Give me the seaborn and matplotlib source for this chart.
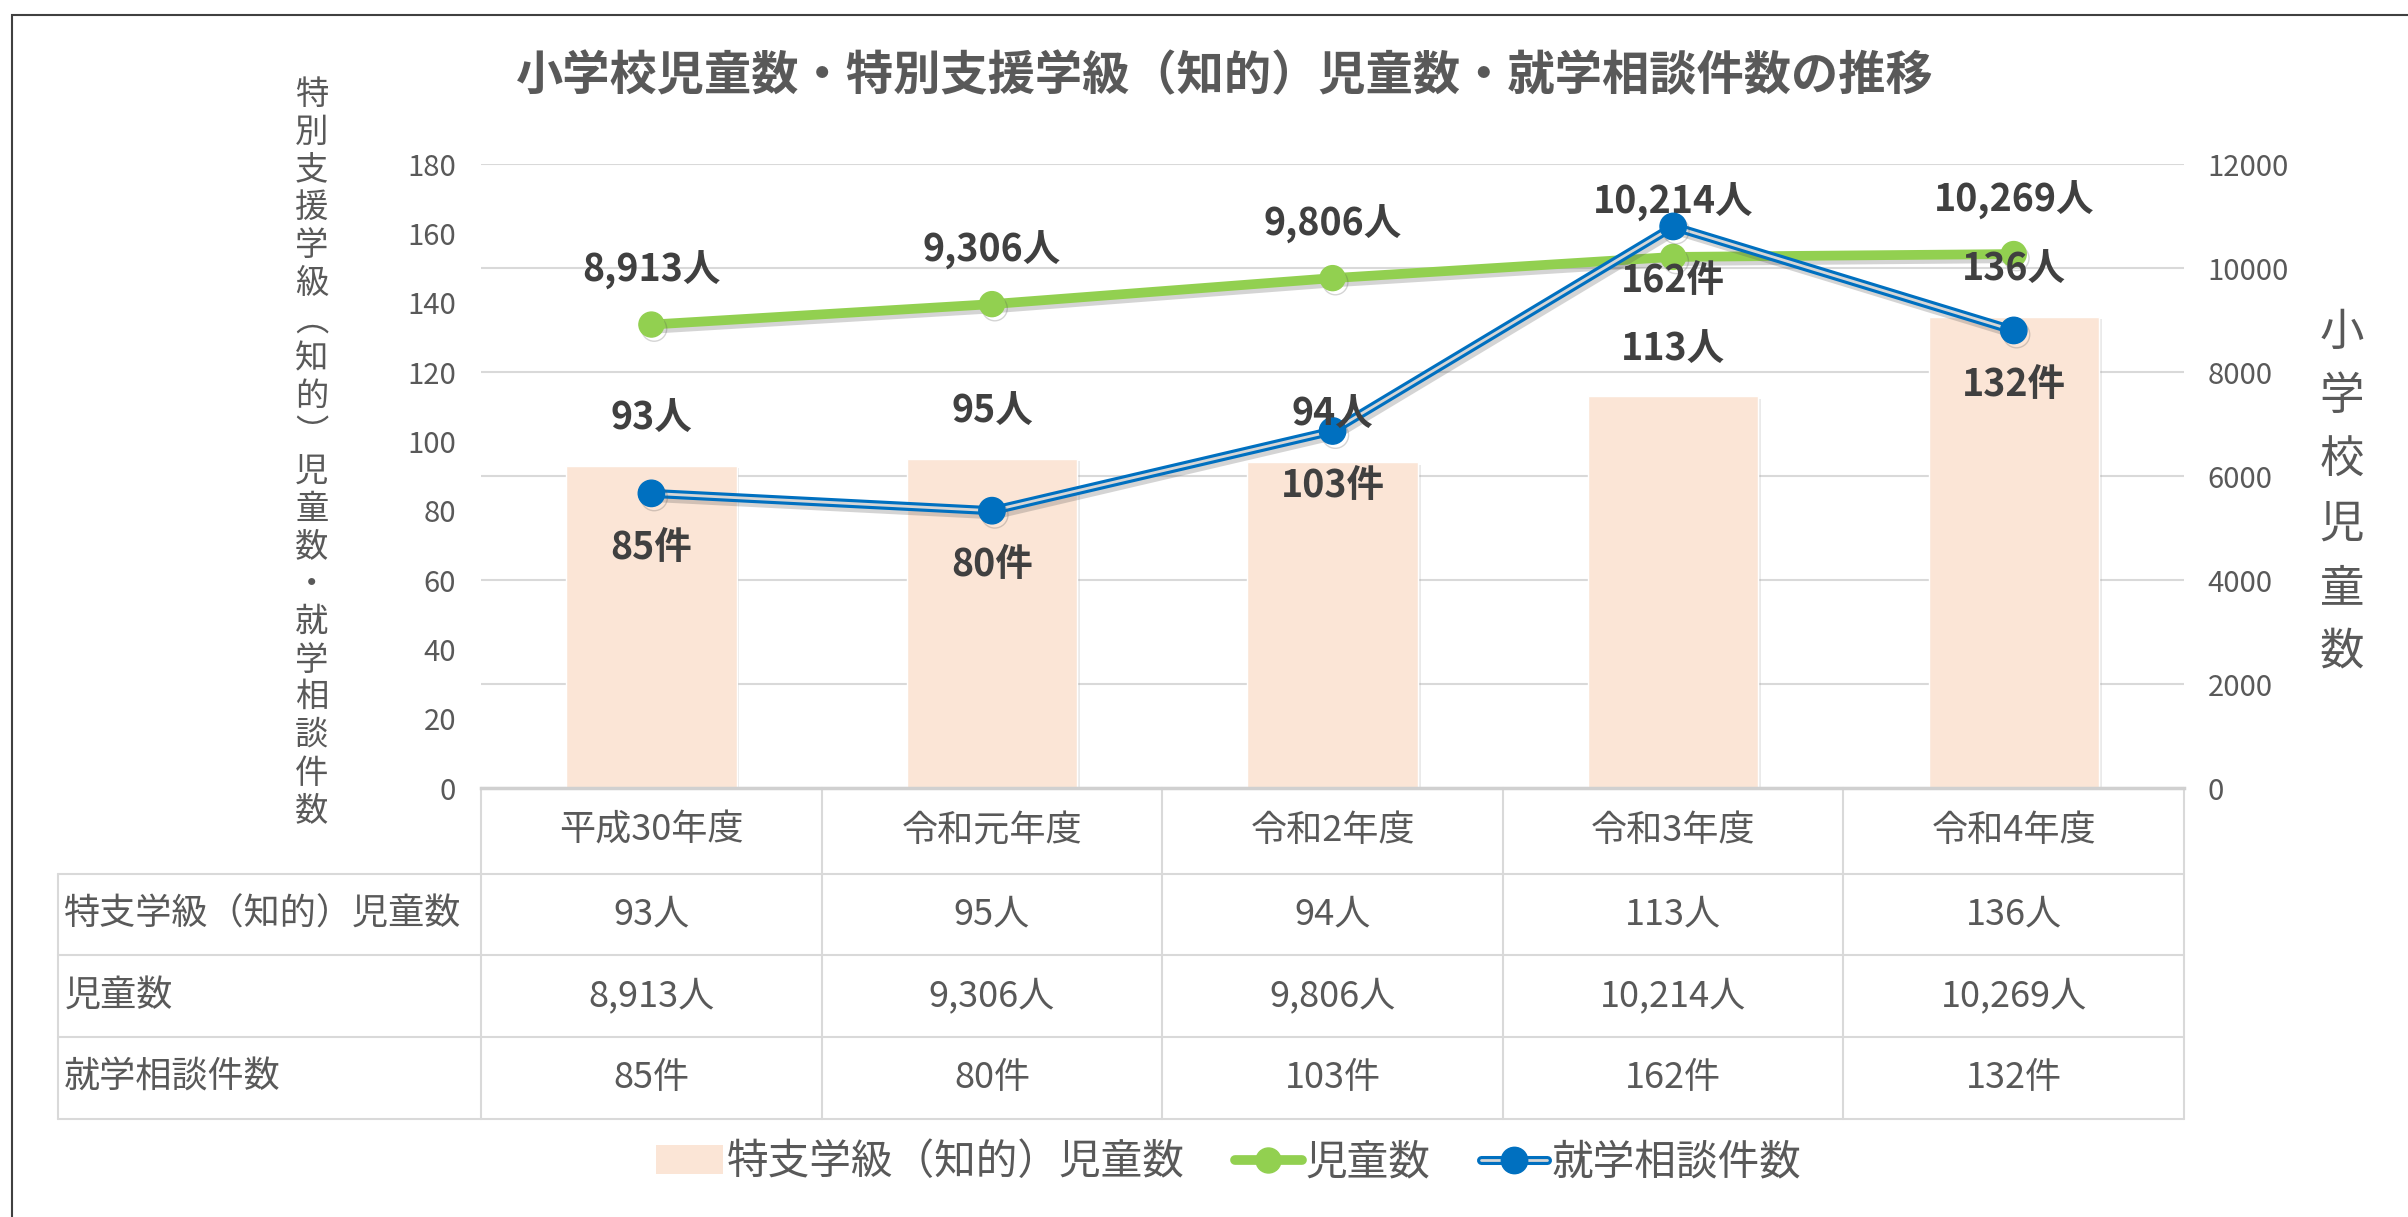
import numpy as np
import pandas as pd
import matplotlib
matplotlib.use('Agg')
import matplotlib.pyplot as plt
import matplotlib.patheffects as pe
import matplotlib.transforms as mtrans
from matplotlib.lines import Line2D
from matplotlib.patches import Patch, Rectangle
from matplotlib.legend_handler import HandlerTuple
import seaborn as sns

# データ
years = ['平成30年度', '令和元年度', '令和2年度', '令和3年度', '令和4年度']
tokushi = [93, 95, 94, 113, 136]          # 特支学級（知的）児童数
jidou = [8913, 9306, 9806, 10214, 10269]  # 児童数
soudan = [85, 80, 103, 162, 132]          # 就学相談件数
row_names = ['特支学級（知的）児童数', '児童数', '就学相談件数']
left_ticks = list(range(0, 181, 20))
right_ticks = list(range(0, 12001, 2000))

title = '小学校児童数・特別支援学級（知的）児童数・就学相談件数の推移'
left_label = '特別支援学級︵知的︶児童数・就学相談件数'
right_label = '小学校児童数'

df = pd.DataFrame({'年度': years, '特支': tokushi, '児童数': jidou, '相談': soudan})

BAR = '#FBE5D6'
GREEN = '#92D050'
BLUE = '#0070C0'
GRID = '#D9D9D9'
TXT = '#595959'
LBL = '#404040'

sns.set_style('white')
plt.rcParams['font.family'] = ['Noto Sans CJK JP', 'DejaVu Sans']

fig = plt.figure(figsize=(24.08, 12.17), dpi=100)
ax = fig.add_axes([0.1998, 0.3525, 0.7072, 0.5127])
ax2 = ax.twinx()
# 棒と就学相談件数の線を児童数の線より前に
ax.set_zorder(ax2.get_zorder() + 1)
ax.patch.set_visible(False)

# 棒グラフ
sns.barplot(data=df, x='年度', y='特支', color=BAR, saturation=1, width=0.5,
            errorbar=None, ax=ax)
for p in ax.patches:
    p.set_path_effects([pe.SimplePatchShadow(offset=(2, -2), shadow_rgbFace='#999999', alpha=0.2),
                        pe.Normal()])

x = np.arange(len(years))
shadow = [pe.SimpleLineShadow(offset=(2, -3), shadow_color='#555555', alpha=0.25), pe.Normal()]

# 児童数（右軸）
ax2.plot(x, jidou, color=GREEN, lw=7, solid_capstyle='round', zorder=3, path_effects=shadow)
ax2.plot(x, jidou, ls='none', marker='o', ms=18, color=GREEN, zorder=4, path_effects=shadow)

# 就学相談件数（左軸、二重線）
ax.plot(x, soudan, color=BLUE, lw=6.5, solid_joinstyle='round', zorder=3, path_effects=shadow)
ax.plot(x, soudan, color='#D6D6D6', lw=2, solid_joinstyle='round', zorder=4)
ax.plot(x, soudan, ls='none', marker='o', ms=19, color=BLUE, zorder=5, path_effects=shadow)

# データラベル
for i in range(len(years)):
    ax.annotate(f'{tokushi[i]}人', (i, tokushi[i]), xytext=(0, 34), textcoords='offset points',
                ha='center', va='center', fontsize=27, fontweight='bold', color=LBL, zorder=10)
    ax2.annotate(f'{jidou[i]:,}人', (i, jidou[i]), xytext=(0, 39), textcoords='offset points',
                 ha='center', va='center', fontsize=27, fontweight='bold', color=LBL, zorder=10)
    ax.annotate(f'{soudan[i]}件', (i, soudan[i]), xytext=(0, -39), textcoords='offset points',
                ha='center', va='center', fontsize=27, fontweight='bold', color=LBL, zorder=10)

# 軸
ax.set_xlim(-0.5, len(years) - 0.5)
ax.set_ylim(0, 180)
ax.set_yticks(left_ticks)
ax.set_xlabel('')
ax.set_ylabel('')
ax.tick_params(axis='x', length=0, labelbottom=False)
ax.tick_params(axis='y', length=0, pad=18, labelsize=21, labelcolor=TXT)
ax2.set_ylim(0, 12000)
ax2.set_yticks(right_ticks)
ax2.tick_params(axis='y', length=0, pad=17, labelsize=21, labelcolor=TXT)
ax2.yaxis.grid(True, color=GRID, lw=1.5)
ax2.set_axisbelow(True)
for s in ['top', 'left', 'right']:
    ax.spines[s].set_visible(False)
for s in ax2.spines.values():
    s.set_visible(False)
ax.spines['bottom'].set_color('#D0D0D0')
ax.spines['bottom'].set_linewidth(2.5)

# データテーブル
trans = mtrans.blended_transform_factory(ax.transData, ax.transAxes)
row_y = [0, -0.1378, -0.2676, -0.399, -0.530]
left_x = -1.742
for y in row_y[1:]:
    ax.plot([left_x, len(years) - 0.5], [y, y], transform=trans, clip_on=False, color=GRID, lw=1.5)
for xv in np.arange(-0.5, len(years), 1.0):
    ax.plot([xv, xv], [0, row_y[-1]], transform=trans, clip_on=False, color=GRID, lw=1.5)
ax.plot([left_x, left_x], [row_y[1], row_y[-1]], transform=trans, clip_on=False, color=GRID, lw=1.5)

rows = [[f'{v}人' for v in tokushi], [f'{v:,}人' for v in jidou], [f'{v}件' for v in soudan]]
for i, yr in enumerate(years):
    ax.text(i, (row_y[0] + row_y[1]) / 2, yr, transform=trans, ha='center', va='center',
            fontsize=26, color=TXT)
for r, (name, vals) in enumerate(zip(row_names, rows)):
    yc = (row_y[r + 1] + row_y[r + 2]) / 2
    ax.text(left_x + 0.018, yc, name, transform=trans, ha='left', va='center', fontsize=26, color=TXT)
    for i, v in enumerate(vals):
        ax.text(i, yc, v, transform=trans, ha='center', va='center', fontsize=26, color=TXT)
ax.set_xlim(-0.5, len(years) - 0.5)
ax.set_ylim(0, 180)

# タイトル・軸ラベル
fig.text(0.5087, 0.937, title, ha='center', va='center', fontsize=34, fontweight='bold', color=TXT)
fig.text(0.1295, 0.628, '\n'.join(left_label), ha='center', va='center', fontsize=24,
         color=TXT, linespacing=1.1)
fig.text(0.9726, 0.596, '\n'.join(right_label), ha='center', va='center', fontsize=32,
         color=TXT, linespacing=1.5)

# 凡例
bar_h = Patch(facecolor=BAR, edgecolor='none')
green_h = Line2D([], [], color=GREEN, lw=7, marker='o', ms=18)
blue_h = (Line2D([], [], color=BLUE, lw=6.5),
          Line2D([], [], color='#D6D6D6', lw=2),
          Line2D([], [], ls='none', marker='o', ms=19, color=BLUE))
fig.legend(handles=[bar_h, green_h, blue_h], labels=row_names, loc='center',
           bbox_to_anchor=(0.5103, 0.0444), ncol=3, frameon=False, fontsize=30,
           labelcolor=TXT, handler_map={tuple: HandlerTuple(ndivide=1, pad=0)},
           handlelength=1.6, handletextpad=0.1, columnspacing=1.2)

# 外枠
fig.add_artist(Rectangle((0.005, -0.05), 1.1, 1.0377, transform=fig.transFigure,
                         fill=False, edgecolor='#404040', lw=1.5))

fig.savefig('out.png', dpi=100)
